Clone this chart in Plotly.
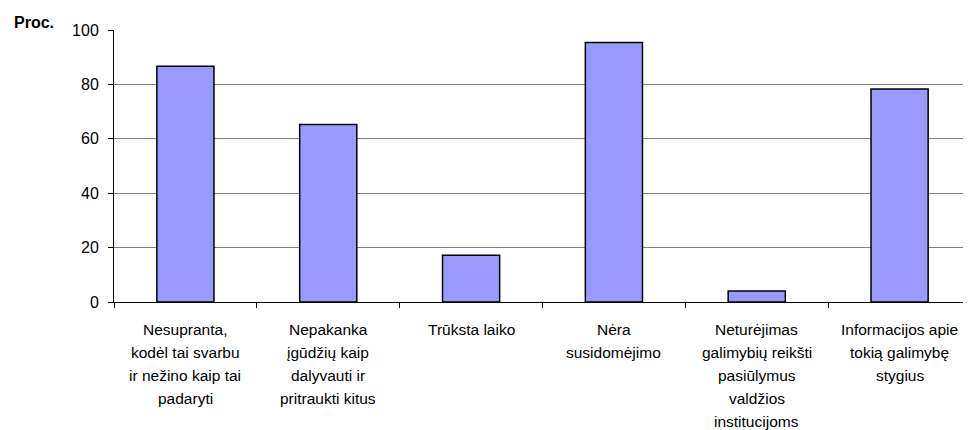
import plotly.graph_objects as go

categories = [
    "Nesupranta,\nkodėl tai svarbu\nir nežino kaip tai\npadaryti",
    "Nepakanka\nįgūdžių kaip\ndalyvauti ir\npritraukti kitus",
    "Trūksta laiko",
    "Nėra\nsusidomėjimo",
    "Neturėjimas\ngalimybių reikšti\npasiūlymus\nvaldžios\ninstitucijoms",
    "Informacijos apie\ntokią galimybę\nstygius",
]
values = [86.7, 65.3, 17.2, 95.4, 4.0, 78.3]
y_ticks = [0, 20, 40, 60, 80, 100]
y_title = "Proc."

FONT = "Liberation Sans, Arial, sans-serif"

fig = go.Figure()
fig.add_trace(go.Bar(
    x=categories,
    y=values,
    width=0.4,
    marker=dict(color="#9999FF", line=dict(color="#000000", width=1.5)),
))

annotations = []
for cat in categories:
    for i, line in enumerate(cat.split("\n")):
        annotations.append(dict(
            x=cat, xref="x", y=0, yref="paper",
            text=line, showarrow=False,
            xanchor="center", yanchor="middle",
            yshift=-(27 + i * 23.2),
            font=dict(family=FONT, size=15.5, color="#000000"),
        ))
annotations.append(dict(
    x=-0.0933, xref="paper", y=1.0, yref="paper",
    text="<b>" + y_title + "</b>", showarrow=False,
    xanchor="center", yanchor="middle", yshift=8,
    font=dict(family=FONT, size=16, color="#000000"),
))

fig.update_layout(
    width=963, height=422,
    margin=dict(l=106, r=0, t=22, b=128, pad=0),
    paper_bgcolor="white", plot_bgcolor="white",
    showlegend=False,
    bargap=0.6,
    annotations=annotations,
    font=dict(family=FONT, color="#000000"),
)
fig.update_xaxes(
    type="category",
    showticklabels=False,
    showline=True, linecolor="#000000", linewidth=1,
    ticks="outside", tickson="boundaries", ticklen=5, tickcolor="#000000",
    showgrid=False,
)
fig.update_yaxes(
    range=[0, 100],
    tickvals=y_ticks,
    ticktext=[str(v) for v in y_ticks],
    tickfont=dict(family=FONT, size=16, color="#000000"),
    showline=True, linecolor="#000000", linewidth=1,
    ticks="outside", ticklen=5, tickcolor="#000000",
    showgrid=True, gridcolor="#808080", gridwidth=1,
    zeroline=False,
    ticklabelstandoff=6,
)

fig.write_html("out.html")
